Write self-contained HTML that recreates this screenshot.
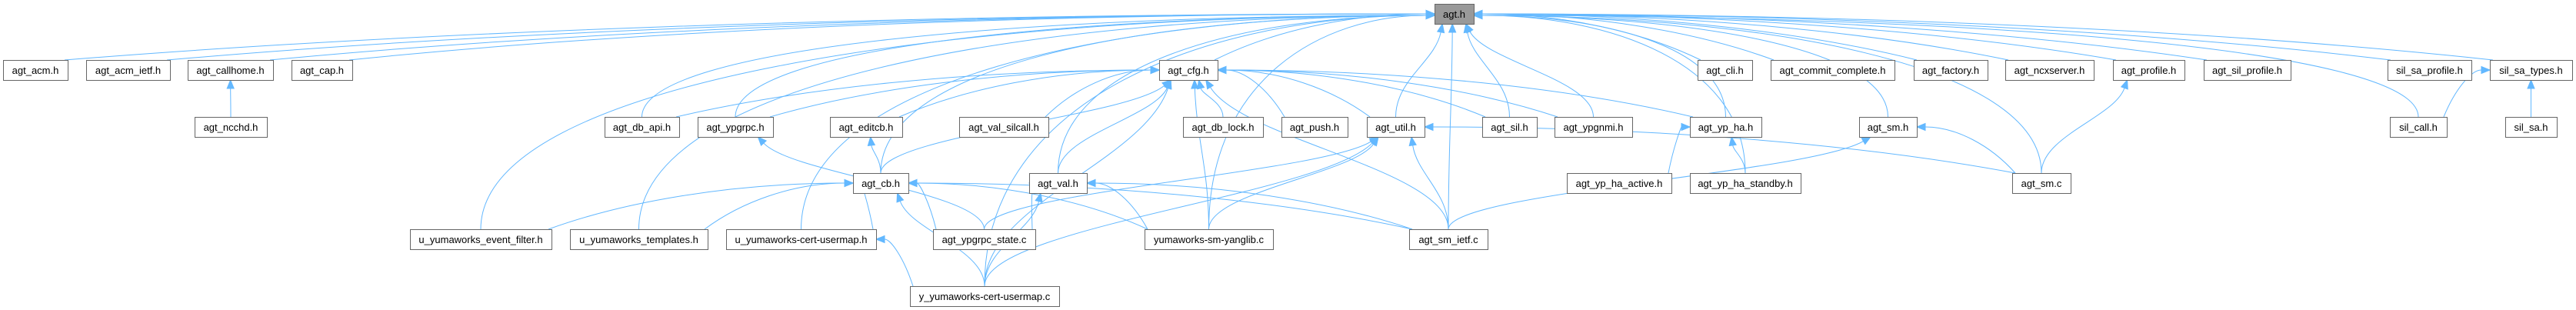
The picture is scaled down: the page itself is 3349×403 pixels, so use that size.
<!DOCTYPE html>
<html><head><meta charset="utf-8"><style>
html,body{margin:0;padding:0;background:#fff;}
svg{display:block;}
text{font-family:"Liberation Sans",Arial,sans-serif;font-size:13px;fill:#000;}
</style></head><body>
<svg id="g" width="3349" height="403" xmlns="http://www.w3.org/2000/svg"></svg>
<script>
const N={
"agt.h":[1865,1916,5],
"agt_acm.h":[4,88,78],"agt_acm_ietf.h":[112,221,78],"agt_callhome.h":[244,355,78],"agt_cap.h":[379,458,78],
"agt_cfg.h":[1507,1583,78],"agt_cli.h":[2207,2278,78],"agt_commit_complete.h":[2302,2463,78],
"agt_factory.h":[2488,2584,78],"agt_ncxserver.h":[2607,2722,78],"agt_profile.h":[2747,2840,78],
"agt_sil_profile.h":[2865,2978,78],"sil_sa_profile.h":[3104,3213,78],"sil_sa_types.h":[3237,3344,78],
"agt_ncchd.h":[253,347,152],"agt_db_api.h":[786,883,152],"agt_ypgrpc.h":[907,1005,152],"agt_editcb.h":[1079,1173,152],
"agt_val_silcall.h":[1247,1363,152],"agt_db_lock.h":[1538,1642,152],"agt_push.h":[1666,1752,152],"agt_util.h":[1777,1852,152],
"agt_sil.h":[1927,1998,152],"agt_ypgnmi.h":[2021,2122,152],"agt_yp_ha.h":[2197,2290,152],"agt_sm.h":[2417,2492,152],
"sil_call.h":[3107,3181,152],"sil_sa.h":[3257,3324,152],
"agt_cb.h":[1109,1181,225],"agt_val.h":[1338,1413,225],"agt_yp_ha_active.h":[2037,2173,225],"agt_yp_ha_standby.h":[2197,2341,225],"agt_sm.c":[2616,2692,225],
"u_yumaworks_event_filter.h":[533,717,298],"u_yumaworks_templates.h":[741,920,298],"u_yumaworks-cert-usermap.h":[944,1139,298],
"agt_ypgrpc_state.c":[1213,1346,298],"yumaworks-sm-yanglib.c":[1488,1655,298],"agt_sm_ietf.c":[1832,1934,298],
"y_yumaworks-cert-usermap.c":[1183,1377,372]
};
const H=26;
const E=[
["agt_acm.h","agt.h"],["agt_acm_ietf.h","agt.h"],["agt_callhome.h","agt.h"],["agt_cap.h","agt.h"],["agt_cfg.h","agt.h"],
["agt_cli.h","agt.h"],["agt_commit_complete.h","agt.h"],["agt_factory.h","agt.h"],["agt_ncxserver.h","agt.h"],["agt_profile.h","agt.h"],
["agt_sil_profile.h","agt.h"],["sil_sa_profile.h","agt.h"],["sil_sa_types.h","agt.h"],
["agt_db_api.h","agt.h"],["agt_ypgrpc.h","agt.h"],["agt_util.h","agt.h"],["agt_sil.h","agt.h"],["agt_ypgnmi.h","agt.h"],
["agt_yp_ha.h","agt.h"],["agt_sm.h","agt.h"],["sil_call.h","agt.h"],["agt_cb.h","agt.h"],["agt_val.h","agt.h"],
["u_yumaworks_event_filter.h","agt.h"],["u_yumaworks_templates.h","agt.h"],["u_yumaworks-cert-usermap.h","agt.h"],
["y_yumaworks-cert-usermap.c","agt.h"],["agt_sm_ietf.c","agt.h"],["agt_sm.c","agt.h"],["agt_yp_ha_standby.h","agt.h"],
["yumaworks-sm-yanglib.c","agt.h"],
["agt_ncchd.h","agt_callhome.h"],
["agt_db_api.h","agt_cfg.h"],["agt_ypgrpc.h","agt_cfg.h"],["agt_editcb.h","agt_cfg.h"],["agt_val_silcall.h","agt_cfg.h"],
["agt_db_lock.h","agt_cfg.h"],["agt_push.h","agt_cfg.h"],["agt_util.h","agt_cfg.h"],["agt_sil.h","agt_cfg.h"],["agt_ypgnmi.h","agt_cfg.h"],
["agt_yp_ha.h","agt_cfg.h"],["agt_cb.h","agt_cfg.h"],["agt_val.h","agt_cfg.h"],["yumaworks-sm-yanglib.c","agt_cfg.h"],
["y_yumaworks-cert-usermap.c","agt_cfg.h"],["agt_sm_ietf.c","agt_cfg.h"],
["agt_cb.h","agt_editcb.h"],["agt_ypgrpc_state.c","agt_ypgrpc.h"],
["u_yumaworks_event_filter.h","agt_cb.h"],["u_yumaworks_templates.h","agt_cb.h"],["u_yumaworks-cert-usermap.h","agt_cb.h"],
["agt_ypgrpc_state.c","agt_cb.h"],["y_yumaworks-cert-usermap.c","agt_cb.h"],["yumaworks-sm-yanglib.c","agt_cb.h"],["agt_sm_ietf.c","agt_cb.h"],
["agt_ypgrpc_state.c","agt_val.h"],["y_yumaworks-cert-usermap.c","agt_val.h"],["yumaworks-sm-yanglib.c","agt_val.h"],["agt_sm_ietf.c","agt_val.h"],
["agt_ypgrpc_state.c","agt_util.h"],["yumaworks-sm-yanglib.c","agt_util.h"],["y_yumaworks-cert-usermap.c","agt_util.h"],
["agt_sm_ietf.c","agt_util.h"],["agt_sm.c","agt_util.h"],
["y_yumaworks-cert-usermap.c","u_yumaworks-cert-usermap.h"],
["agt_yp_ha_active.h","agt_yp_ha.h"],["agt_yp_ha_standby.h","agt_yp_ha.h"],
["agt_sm_ietf.c","agt_sm.h"],["agt_sm.c","agt_sm.h"],["agt_sm.c","agt_profile.h"],
["sil_call.h","sil_sa_types.h"],["sil_sa.h","sil_sa_types.h"]
];
const svg=document.getElementById('g');let out='';
const col='#63b8ff';
function cx(n){return (N[n][0]+N[n][1])/2;}
for(const [c,p] of E){
  const C=N[c],P=N[p];
  let sx=cx(c),sy=C[2];
  let ex,ey,c1x,c1y,c2x,c2y;
  const pc=cx(p),dx=sx-pc;
  const rowdiff=C[2]-P[2];
  if(rowdiff<=80 && Math.abs(dx)>(P[1]-P[0])){
    ex= dx<0?P[0]:P[1];
    ey=P[2]+13;
    sx = dx<0?Math.min(C[1]-4,sx+(C[1]-C[0])/2-4):Math.max(C[0]+4,sx-(C[1]-C[0])/2+4);
    sy=C[2];
    c1x=sx+(ex-sx)*0.25;c1y=sy-(sy-ey)*0.6;
    c2x=ex+(sx-ex)*0.4;c2y=ey;
  } else if(p==="agt.h" && Math.abs(dx)>250){
    ex= dx<0?P[0]:P[1]; ey=P[2]+15;
    c1x=sx;c1y=sy-(sy-ey)*0.7;
    c2x=ex+(sx-ex)*0.5;c2y=ey;
  } else {
    ex=pc+Math.max(-P[1]+P[0],Math.min(P[1]-P[0],dx))*0.3; ey=P[2]+H;
    c1x=sx;c1y=sy-(sy-ey)*0.4;
    c2x=ex+(sx-ex)*0.15;c2y=ey+(sy-ey)*0.4;
  }
  let ax=ex-c2x,ay=ey-c2y,L=Math.hypot(ax,ay)||1;ax/=L;ay/=L;
  const bx=ex-ax*11,by=ey-ay*11;
  out+=`<path d="M${sx},${sy} C${c1x},${c1y} ${c2x},${c2y} ${bx},${by}" fill="none" stroke="${col}" stroke-width="1"/>`;
  const px=-ay,py=ax;
  out+=`<polygon points="${ex},${ey} ${bx+px*4.5},${by+py*4.5} ${bx-px*4.5},${by-py*4.5}" fill="${col}" stroke="${col}"/>`;
}
for(const n in N){
  const [x1,x2,y]=N[n];
  out+=`<rect x="${x1+0.5}" y="${y+0.5}" width="${x2-x1}" height="${H}" fill="${n==='agt.h'?'#999999':'#ffffff'}" stroke="#666666" stroke-width="1"/>`;
  out+=`<text x="${(x1+x2)/2}" y="${y+18}" text-anchor="middle">${n}</text>`;
}
svg.innerHTML=out;
</script>
</body></html>
